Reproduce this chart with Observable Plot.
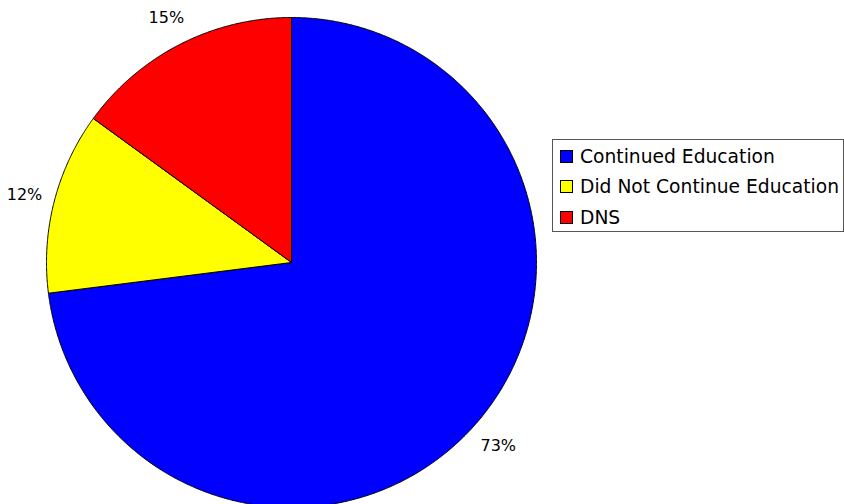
<!DOCTYPE html>
<html>
<head>
<meta charset="utf-8">
<script src="https://cdn.jsdelivr.net/npm/d3@7"></script>
<script src="https://cdn.jsdelivr.net/npm/@observablehq/plot@0.6"></script>
<style>
  html, body { margin: 0; padding: 0; background: #fff; }
  #wrap { position: relative; width: 844px; height: 504px; overflow: hidden; font-family: "DejaVu Sans", sans-serif; }
  #legend { position: absolute; left: 552px; top: 139px; width: 290px; height: 91px; border: 1px solid #555; background: #fff; box-sizing: content-box; }
  .item { position: absolute; left: 7px; height: 20px; display: flex; align-items: center; font-size: 18.7px; color: #000; white-space: nowrap; }
  .sw { width: 11px; height: 11px; border: 1px solid #000; margin-right: 7px; flex: none; }
</style>
</head>
<body>
<div id="wrap"></div>
<script>
const categories = ["Continued Education", "Did Not Continue Education", "DNS"];
const values = [73, 12, 15];
const colors = ["#0000ff", "#ffff00", "#ff0000"];

const W = 844, H = 504, R = 245, cx = 291, cy = 262;

const arcs = d3.pie().sort(null).value(d => d.value)(categories.map((c, i) => ({cat: c, value: values[i]})));

const pts = [];
for (const a of arcs) {
  const n = Math.max(2, Math.ceil((a.endAngle - a.startAngle) / 0.005));
  pts.push({cat: a.data.cat, x: 0, y: 0});
  for (let k = 0; k <= n; k++) {
    const t = a.startAngle + (a.endAngle - a.startAngle) * k / n;
    pts.push({cat: a.data.cat, x: Math.sin(t), y: Math.cos(t)});
  }
  pts.push({cat: a.data.cat, x: 0, y: 0});
}

const labelR = 1.125;
const labels = arcs.map(a => {
  const m = (a.startAngle + a.endAngle) / 2;
  return {cat: a.data.cat, text: a.data.value + "%", x: labelR * Math.sin(m), y: labelR * Math.cos(m)};
});

const chart = Plot.plot({
  width: W, height: H,
  margin: 0,
  x: {domain: [-cx / R, (W - cx) / R], range: [0, W], axis: null},
  y: {domain: [-(H - cy) / R, cy / R], range: [H, 0], axis: null},
  color: {domain: categories, range: colors},
  style: {background: "#fff", fontFamily: "DejaVu Sans, sans-serif"},
  marks: [
    Plot.line(pts, {x: "x", y: "y", z: "cat", fill: "cat", stroke: "#000", strokeWidth: 1, curve: "linear"}),
    Plot.text(labels, {x: "x", y: "y", text: "text", fontSize: 16, fill: "#000", textAnchor: "middle", lineAnchor: "middle", dy: 1})
  ]
});

const wrap = document.getElementById("wrap");
wrap.appendChild(chart);

const legend = document.createElement("div");
legend.id = "legend";
categories.forEach((c, i) => {
  const it = document.createElement("div");
  it.className = "item";
  it.style.top = (6 + i * 30.5) + "px";
  const sw = document.createElement("div");
  sw.className = "sw";
  sw.style.background = colors[i];
  const tx = document.createElement("span");
  tx.textContent = c;
  it.appendChild(sw);
  it.appendChild(tx);
  legend.appendChild(it);
});
wrap.appendChild(legend);
</script>
</body>
</html>
